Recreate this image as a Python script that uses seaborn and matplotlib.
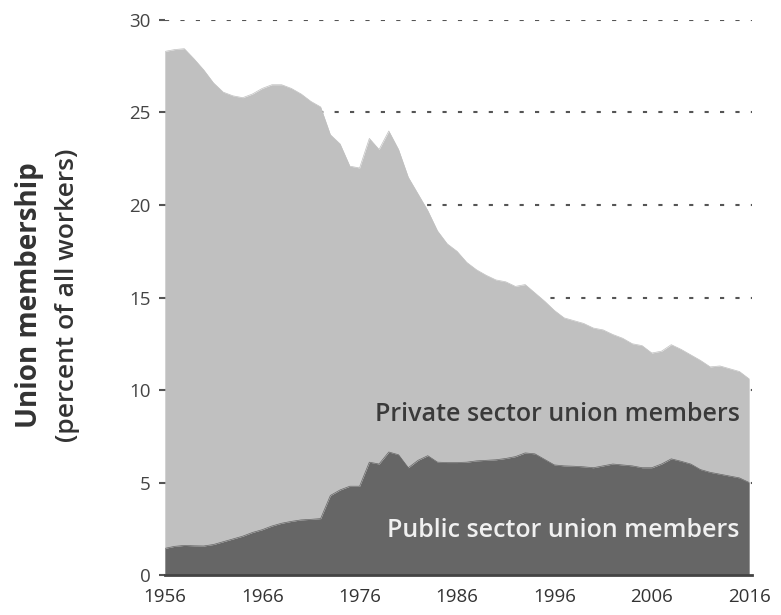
import numpy as np
import pandas as pd
import matplotlib
matplotlib.use("Agg")
import matplotlib.pyplot as plt
import seaborn as sns

years = list(range(1956, 2017))
total = [28.3, 28.4, 28.45, 27.9, 27.3, 26.6, 26.1, 25.9, 25.8, 26.0,
         26.3, 26.5, 26.5, 26.3, 26.0, 25.6, 25.3, 23.8, 23.3, 22.1,
         22.0, 23.6, 23.0, 24.0, 23.0, 21.5, 20.6, 19.7, 18.6, 17.9,
         17.5, 16.9, 16.5, 16.2, 15.95, 15.85, 15.6, 15.7, 15.25, 14.8,
         14.3, 13.9, 13.75, 13.6, 13.35, 13.25, 13.0, 12.8, 12.5, 12.4,
         12.0, 12.1, 12.45, 12.2, 11.9, 11.6, 11.25, 11.3, 11.15, 11.0,
         10.6]
public = [1.44, 1.55, 1.6, 1.58, 1.57, 1.65, 1.8, 1.95, 2.1, 2.3,
          2.45, 2.65, 2.8, 2.9, 2.98, 3.01, 3.05, 4.3, 4.6, 4.8,
          4.8, 6.1, 6.0, 6.65, 6.5, 5.8, 6.2, 6.45, 6.1, 6.08,
          6.08, 6.1, 6.17, 6.2, 6.23, 6.3, 6.4, 6.6, 6.55, 6.25,
          5.95, 5.9, 5.88, 5.85, 5.8, 5.9, 6.0, 5.95, 5.9, 5.8,
          5.8, 6.0, 6.28, 6.15, 6.0, 5.7, 5.55, 5.45, 5.35, 5.25,
          5.0]
yticks = [0, 5, 10, 15, 20, 25, 30]
xticks = [1956, 1966, 1976, 1986, 1996, 2006, 2016]
label_private = "Private sector union members"
label_public = "Public sector union members"

df = pd.DataFrame({"year": years, "total": total, "public": public})

sns.set_theme(style="white")
plt.rcParams["font.family"] = ["Open Sans", "DejaVu Sans"]

fig = plt.figure(figsize=(7.81, 6.15), dpi=100)
ax = fig.add_axes([0.211, 0.065, 0.752, 0.9025])

light = "#c0c0c0"
dark = "#666666"

sns.lineplot(data=df, x="year", y="total", ax=ax, color=light, linewidth=0.5, zorder=3)
sns.lineplot(data=df, x="year", y="public", ax=ax, color=dark, linewidth=0.5, zorder=4)
ax.fill_between(df["year"], df["public"], df["total"], color=light, linewidth=0, zorder=3)
ax.fill_between(df["year"], 0, df["public"], color=dark, linewidth=0, zorder=4)

ax.set_xlim(1956, 2016.3)
ax.set_ylim(0, 30)
ax.set_yticks(yticks)
ax.set_xticks(xticks)
ax.set_xlabel("")
ax.set_ylabel("")

for t in yticks[1:]:
    ax.axhline(t, color="#555555", linewidth=1.5, linestyle=(0, (2, 5.4)), zorder=1)

for s in ["top", "right", "left"]:
    ax.spines[s].set_visible(False)
ax.spines["bottom"].set_color("#444444")
ax.spines["bottom"].set_linewidth(2)
ax.spines["bottom"].set_zorder(6)

ax.tick_params(axis="y", length=4, width=1.5, color="#555555", labelsize=13.5,
               labelcolor="#444444", pad=6, left=True)
ax.tick_params(axis="x", length=0, labelsize=13.5, labelcolor="#333333", pad=9)

ax.text(2015, 8.65, label_private, ha="right", va="center", fontsize=18,
        fontweight="semibold", color="#3a3a3a", zorder=7)
ax.text(2015, 2.43, label_public, ha="right", va="center", fontsize=18,
        fontweight="semibold", color="#f0f0f0", zorder=7)

fig.text(0.038, 0.52, "Union membership", rotation=90, ha="center", va="center",
         fontsize=20, fontweight="bold", color="#333333")
fig.text(0.086, 0.52, "(percent of all workers)", rotation=90, ha="center", va="center",
         fontsize=19, fontweight="semibold", color="#333333")

fig.savefig("out.png", dpi=100)
